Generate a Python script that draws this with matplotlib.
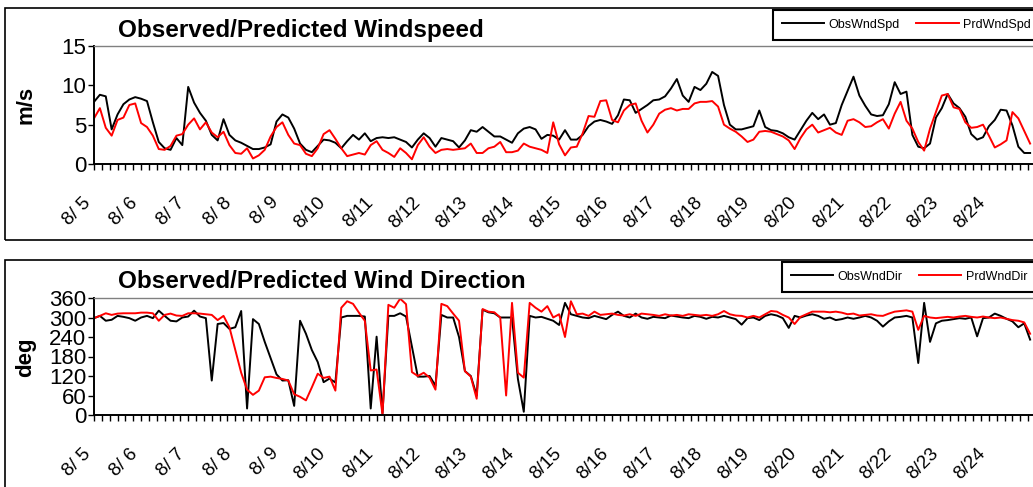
import numpy as np
import matplotlib
matplotlib.use('Agg')
import matplotlib.pyplot as plt
import matplotlib.transforms as mtransforms
from matplotlib.patches import Rectangle

plt.rcParams['font.family'] = 'Liberation Sans'

# readings every 3 hours, starting 8/5 00:00
hours = np.arange(0, 480, 3)
day_labels = ['8/ 5', '8/ 6', '8/ 7', '8/ 8', '8/ 9', '8/10', '8/11', '8/12', '8/13', '8/14',
              '8/15', '8/16', '8/17', '8/18', '8/19', '8/20', '8/21', '8/22', '8/23', '8/24']

obs_spd = [7.9, 8.8, 8.6, 4.4, 6.3, 7.6, 8.2, 8.5, 8.3, 8.0,
           5.3, 2.8, 2.0, 1.8, 3.3, 2.4, 9.8, 7.8, 6.5, 5.5,
           3.7, 3.0, 5.7, 3.7, 3.0, 2.7, 2.3, 1.9, 1.9, 2.1,
           2.5, 5.4, 6.3, 5.9, 4.5, 2.6, 1.8, 1.5, 2.3, 3.1,
           3.0, 2.7, 2.0, 2.9, 3.7, 3.1, 3.9, 2.9, 3.3, 3.4,
           3.3, 3.4, 3.1, 2.8, 2.1, 3.1, 3.9, 3.3, 2.2, 3.3,
           3.1, 2.9, 2.1, 3.0, 4.3, 4.1, 4.7, 4.1, 3.5, 3.5,
           3.1, 2.7, 3.9, 4.5, 4.7, 4.4, 3.2, 3.7, 3.6, 3.1,
           4.3, 3.1, 3.1, 3.7, 4.8, 5.4, 5.6, 5.4, 5.1, 6.2,
           8.2, 8.1, 6.5, 7.0, 7.5, 8.1, 8.2, 8.6, 9.6, 10.8,
           8.7, 7.9, 9.8, 9.4, 10.2, 11.7, 11.2, 7.5, 5.0, 4.4,
           4.4, 4.6, 4.8, 6.8, 4.7, 4.3, 4.2, 3.9, 3.4, 3.1,
           4.3, 5.5, 6.5, 5.7, 6.3, 5.0, 5.2, 7.5, 9.3, 11.1,
           8.7, 7.4, 6.3, 6.1, 6.2, 7.6, 10.4, 8.9, 9.2, 3.7,
           2.2, 2.0, 2.6, 5.9, 7.1, 8.9, 7.7, 7.1, 6.0, 3.8,
           3.1, 3.4, 4.8, 5.6, 6.9, 6.8, 4.9, 2.2, 1.4, 1.4]

prd_spd = [5.8, 7.1, 4.6, 3.6, 5.6, 5.9, 7.5, 7.7, 5.2, 4.7,
           3.6, 1.9, 1.8, 2.3, 3.6, 3.8, 5.0, 5.8, 4.4, 5.3,
           4.0, 3.4, 4.1, 2.4, 1.4, 1.3, 2.0, 0.7, 1.1, 1.8,
           3.5, 4.7, 5.3, 3.7, 2.6, 2.4, 1.3, 1.0, 2.0, 3.8,
           4.3, 3.2, 2.0, 1.0, 1.2, 1.4, 1.2, 2.4, 2.9, 1.8,
           1.4, 0.9, 2.0, 1.4, 0.6, 2.4, 3.4, 2.2, 1.4, 1.8,
           1.9, 1.8, 1.9, 2.0, 2.6, 1.4, 1.4, 2.0, 2.2, 2.8,
           1.5, 1.5, 1.7, 2.6, 2.2, 2.0, 1.8, 1.4, 5.3, 2.5,
           1.1, 2.1, 2.2, 3.9, 6.1, 6.0, 8.0, 8.1, 5.6, 5.3,
           6.8, 7.5, 7.7, 5.5, 4.0, 5.0, 6.4, 6.9, 7.1, 6.8,
           7.0, 7.0, 7.7, 7.9, 7.9, 8.0, 7.3, 5.0, 4.5, 4.1,
           3.5, 2.8, 3.1, 4.1, 4.2, 4.1, 3.8, 3.5, 3.0, 1.9,
           3.3, 4.4, 5.0, 4.0, 4.3, 4.6, 4.0, 3.7, 5.5, 5.7,
           5.3, 4.7, 4.8, 5.3, 5.7, 4.5, 6.4, 7.9, 5.5, 4.5,
           2.8, 1.7, 4.5, 6.6, 8.7, 8.9, 7.2, 7.0, 5.3, 4.6,
           4.7, 5.0, 3.6, 2.1, 2.5, 3.0, 6.6, 5.8, 4.2, 2.6]

obs_dir = [298, 305, 290, 293, 305, 302, 298, 290, 300, 305,
           298, 321, 305, 290, 288, 300, 303, 321, 303, 298,
           106, 280, 283, 265, 270, 320, 20, 295, 280, 225,
           175, 125, 106, 107, 28, 290, 250, 200, 163, 101,
           112, 100, 300, 305, 305, 305, 303, 20, 241, 5,
           305, 305, 313, 303, 210, 118, 118, 120, 90, 308,
           300, 300, 240, 135, 120, 60, 324, 316, 313, 300,
           300, 300, 111, 10, 305, 300, 302, 296, 290, 277,
           345, 310, 305, 300, 298, 305, 300, 295, 308, 318,
           305, 300, 312, 300, 296, 302, 300, 298, 306, 303,
           300, 298, 305, 302, 296, 302, 300, 305, 300, 295,
           278, 298, 300, 292, 305, 310, 306, 298, 268, 305,
           300, 306, 310, 305, 296, 300, 292, 295, 300, 296,
           300, 305, 300, 290, 272, 288, 300, 302, 305, 300,
           160, 345, 225, 282, 290, 292, 295, 298, 296, 300,
           242, 298, 300, 312, 305, 296, 288, 270, 282, 232]

prd_dir = [298, 305, 313, 308, 312, 313, 313, 313, 315, 315,
           313, 290, 308, 312, 306, 305, 313, 313, 312, 310,
           308, 292, 305, 270, 200, 130, 78, 62, 75, 116,
           118, 114, 111, 106, 64, 56, 45, 85, 127, 114,
           118, 75, 330, 350, 342, 315, 290, 137, 140, 2,
           339, 330, 358, 341, 132, 120, 130, 115, 78, 342,
           335, 312, 290, 135, 118, 50, 326, 318, 316, 300,
           60, 345, 130, 115, 345, 330, 318, 335, 300, 310,
           240, 350, 310, 312, 305, 318, 308, 310, 312, 308,
           306, 310, 305, 312, 310, 308, 305, 310, 306, 308,
           305, 310, 308, 306, 308, 305, 310, 320, 310, 306,
           305, 300, 305, 300, 310, 320, 318, 308, 300, 280,
           302, 310, 318, 318, 318, 316, 318, 315, 310, 312,
           306, 308, 310, 306, 305, 312, 318, 320, 322, 318,
           262, 305, 300, 298, 300, 302, 300, 303, 305, 302,
           300, 303, 300, 298, 300, 296, 292, 290, 285, 250]

W, H = 1033, 487
fig = plt.figure(figsize=(W / 100, H / 100), dpi=100)


def box(x0, y0, x1, y1):
    # pixel box (from top-left) -> figure fraction rect
    return [x0 / W, 1 - y1 / H, (x1 - x0) / W, (y1 - y0) / H]


# outer chart frames
for top, bottom in [(8, 240), (260, 520)]:
    fig.patches.append(Rectangle((5 / W, 1 - bottom / H), 1.2, (bottom - top) / H,
                                 transform=fig.transFigure, fill=False,
                                 ec='black', lw=1.2))

tick_hours = np.arange(0, 481, 4)
tick_text = [day_labels[h // 24] if h % 24 == 0 and h // 24 < len(day_labels) else ''
             for h in tick_hours]
# nudge rotated date labels a little to the left
shift = mtransforms.ScaledTranslation(-4.5 / 72, 0, fig.dpi_scale_trans)


def setup(ax, ymax, yticks):
    ax.set_xlim(0, 480)
    ax.set_ylim(0, ymax)
    ax.set_yticks(yticks)
    ax.set_xticks(tick_hours)
    ax.set_xticklabels(tick_text, rotation=45, ha='right', va='center',
                       rotation_mode='anchor')
    ax.tick_params(axis='x', direction='out', length=4.5, width=1, pad=21.5,
                   labelsize=13.5)
    ax.tick_params(axis='y', direction='out', length=4.5, width=1, pad=1,
                   labelsize=16)
    for lab in ax.get_xticklabels():
        lab.set_transform(lab.get_transform() + shift)
    for s in ['left', 'bottom']:
        ax.spines[s].set_linewidth(1.4)
        ax.spines[s].set_color('black')
    for s in ['top', 'right']:
        ax.spines[s].set_linewidth(1.0)
        ax.spines[s].set_color('#808080')


ax1 = fig.add_axes(box(94, 46, 1036, 164))
ax1.plot(hours, obs_spd, color='black', lw=1.4, label='ObsWndSpd')
ax1.plot(hours, prd_spd, color='#ff0000', lw=1.4, label='PrdWndSpd')
setup(ax1, 15, [0, 5, 10, 15])

ax2 = fig.add_axes(box(94, 298, 1036, 415))
ax2.plot(hours, obs_dir, color='black', lw=1.4, label='ObsWndDir')
ax2.plot(hours, prd_dir, color='#ff0000', lw=1.4, label='PrdWndDir')
setup(ax2, 360, [0, 60, 120, 180, 240, 300, 360])

fig.text(118 / W, 1 - 30 / H, 'Observed/Predicted Windspeed', fontsize=17.5,
         fontweight='bold', va='center', ha='left')
fig.text(118 / W, 1 - 282 / H, 'Observed/Predicted Wind Direction', fontsize=17.5,
         fontweight='bold', va='center', ha='left')
fig.text(26 / W, 1 - 105 / H, 'm/s', fontsize=16, fontweight='bold',
         rotation=90, ha='center', va='center')
fig.text(26 / W, 1 - 357 / H, 'deg', fontsize=16, fontweight='bold',
         rotation=90, ha='center', va='center')

for ax, anchor in [(ax1, (773, 10)), (ax2, (782, 262))]:
    leg = ax.legend(loc='upper left', bbox_to_anchor=(anchor[0] / W, 1 - anchor[1] / H),
                    bbox_transform=fig.transFigure, ncol=2, fontsize=9,
                    frameon=True, fancybox=False, edgecolor='black', framealpha=1,
                    handlelength=3.4, handletextpad=0.35, columnspacing=1.3,
                    borderpad=0.7, borderaxespad=0)
    leg.get_frame().set_linewidth(1.5)

fig.savefig('out.png', dpi=100)
